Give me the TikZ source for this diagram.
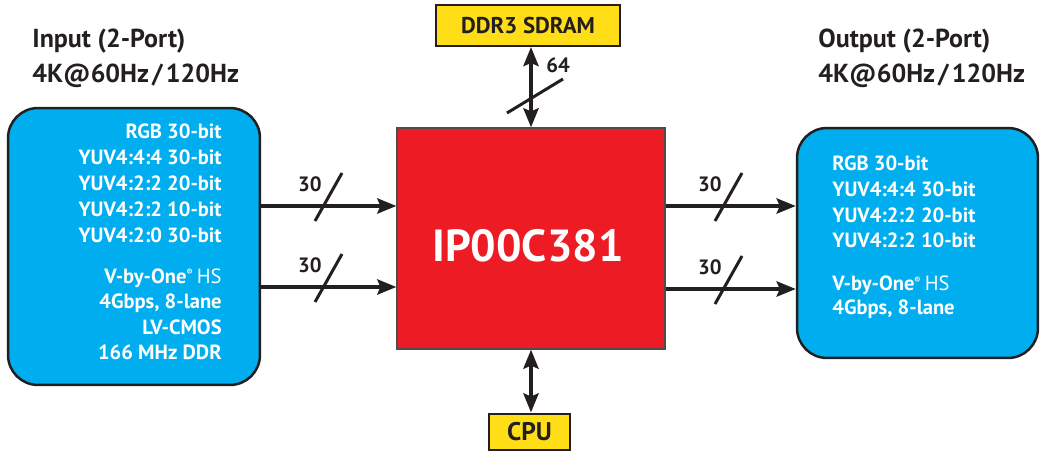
\documentclass[tikz,border=0pt]{standalone}
\usepackage{fontspec}
\setmainfont{PT Sans}
\usepackage{tikz}
\usetikzlibrary{arrows.meta,positioning,calc}
\usepackage{xcolor}

\definecolor{ipcyan}{HTML}{00AEEF}
\definecolor{ipred}{HTML}{ED1C24}
\definecolor{ipyellow}{HTML}{FFDE17}
\definecolor{ipdark}{HTML}{231F20}

\tikzset{
  portbox/.style={draw=ipdark,line width=0.05cm,fill=ipcyan,rounded corners=0.6cm,inner sep=0pt},
  chipbox/.style={draw=ipdark!80,line width=0.025cm,fill=ipred,inner sep=0pt,
    text=white,font=\fontsize{26}{30}\selectfont\bfseries},
  membox/.style={draw=ipdark,line width=0.04cm,fill=ipyellow,inner sep=0pt,text=ipdark},
  fmt/.style={text=white,inner sep=0pt,font=\fontsize{11.7}{13}\selectfont\bfseries},
  title/.style={text=ipdark,inner sep=0pt,font=\fontsize{14.8}{16}\selectfont\bfseries},
  bus/.style={ipdark,line width=0.08cm,-{Stealth[length=0.38cm,width=0.3cm,inset=0.06cm]}},
  dbus/.style={bus,{Stealth[length=0.38cm,width=0.3cm,inset=0.06cm]}-{Stealth[length=0.38cm,width=0.3cm,inset=0.06cm]}},
  slash/.style={ipdark,line width=0.06cm},
  width/.style={text=ipdark,inner sep=0pt,font=\fontsize{11.8}{13}\selectfont\bfseries}
}

\newcommand{\vbyone}{V-by-One\textsuperscript{\tiny ®}\,{\mdseries HS}}

\begin{document}
\begin{tikzpicture}[x=0.02cm,y=-0.02cm]
  \useasboundingbox (0,0) rectangle (1040,452);

  % blocks
  \node[portbox,minimum width=5.04cm,minimum height=5.54cm] (inbox) at (134,246.5) {};
  \node[portbox,minimum width=4.82cm,minimum height=4.6cm] (outbox) at (917.5,243) {};
  \node[chipbox,minimum width=5.36cm,minimum height=4.42cm] (chip) at (531,238.5) {};
  \node[text=white,inner sep=0pt,font=\fontsize{25.6}{30}\selectfont\bfseries,anchor=base] (chipname) at (528,262) {IP00C381};
  \node[membox,minimum width=3.7cm,minimum height=0.82cm,font=\fontsize{13}{15}\selectfont\bfseries] (ddr) at (528,25.5) {DDR3 SDRAM};
  \node[membox,minimum width=1.62cm,minimum height=0.74cm,font=\fontsize{14.5}{16}\selectfont\bfseries] (cpu) at (529.5,432) {CPU};

  % titles
  \node[title,anchor=base west] (intitle) at (32,48) {Input (2-Port)};
  \node[title,anchor=base west] (inrate) at (32,83) {4K@60Hz\hspace{0.12em}/\hspace{0.12em}120Hz};
  \node[title,anchor=base west] (outtitle) at (818,48) {Output (2-Port)};
  \node[title,anchor=base west] (outrate) at (818,83) {4K@60Hz\hspace{0.12em}/\hspace{0.12em}120Hz};

  % input formats
  \foreach \t [count=\i] in {RGB 30-bit,YUV4:4:4 30-bit,YUV4:2:2 20-bit,YUV4:2:2 10-bit,YUV4:2:0 30-bit}
    \node[fmt,anchor=base east] (infmt\i) at (222,113+26*\i) {\t};
  \foreach \t [count=\i] in {\vbyone,{4Gbps, 8-lane},LV-CMOS,166 MHz DDR}
    \node[fmt,anchor=base east] (inlink\i) at (222,257.5+25.5*\i) {\t};

  % output formats
  \foreach \t [count=\i] in {RGB 30-bit,YUV4:4:4 30-bit,YUV4:2:2 20-bit,YUV4:2:2 10-bit}
    \node[fmt,anchor=base west] (outfmt\i) at (832,145+25.7*\i) {\t};
  \foreach \t [count=\i] in {\vbyone,{4Gbps, 8-lane}}
    \node[fmt,anchor=base west] (outlink\i) at (832,267+24*\i) {\t};

  % buses
  \coordinate (row1) at (0,206);
  \coordinate (row2) at (0,287);
  \coordinate (row3) at (0,206);
  \coordinate (row4) at (0,289);
  \draw[bus] (inbox.east |- row1) -- (chip.west |- row1);
  \draw[bus] (inbox.east |- row2) -- (chip.west |- row2);
  \draw[bus] (chip.east |- row3) -- (outbox.west |- row3);
  \draw[bus] (chip.east |- row4) -- (outbox.west |- row4);
  \draw[dbus] (chip.north |- ddr.south) -- (chip.north);
  \draw[dbus] (chip.south) -- (chip.south |- cpu.north);

  % bus widths
  \foreach \p/\n in {{323,206}/a,{323,287}/b,{723,206}/c,{723,289}/d}{
    \coordinate (w\n) at (\p);
    \draw[slash] ($(w\n)+(-8,15)$) -- ($(w\n)+(19,-33)$);
    \node[width,anchor=base east] (lbl\n) at ($(w\n)+(-1,-14)$) {30};
  }
  \coordinate (wm) at (531,98);
  \draw[slash] ($(wm)+(-24,15)$) -- ($(wm)+(32,-19)$);
  \node[width,anchor=base west] (lblm) at ($(wm)+(15,-25)$) {64};
\end{tikzpicture}
\end{document}
